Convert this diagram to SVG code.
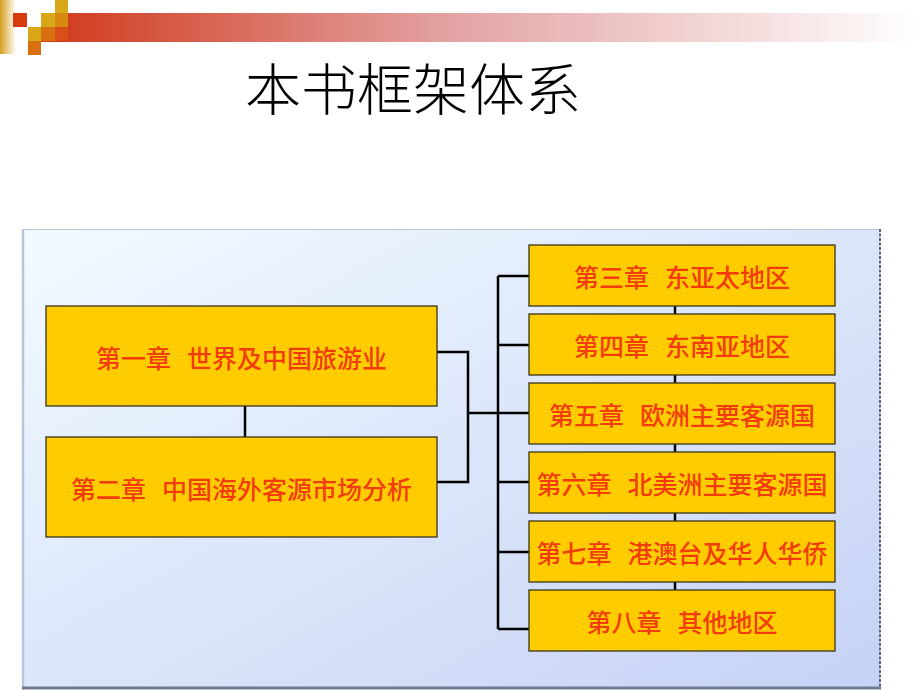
<svg xmlns="http://www.w3.org/2000/svg" width="920" height="690" viewBox="0 0 920 690">
<defs>
<linearGradient id="bar" x1="0" y1="0" x2="1" y2="0">
<stop offset="0" stop-color="#D0381A"/>
<stop offset="0.45" stop-color="#E2A0A0"/>
<stop offset="1" stop-color="#FFFFFF"/>
</linearGradient>
<linearGradient id="strip" x1="0" y1="0" x2="1" y2="0">
<stop offset="0" stop-color="#D8A020"/>
<stop offset="1" stop-color="#FFFFFF"/>
</linearGradient>
<linearGradient id="panel" x1="0" y1="0" x2="1" y2="1">
<stop offset="0" stop-color="#F2FBFF"/>
<stop offset="0.5" stop-color="#DCE6FA"/>
<stop offset="1" stop-color="#C6D2F6"/>
</linearGradient>
<style>
.box{fill:#FFCC00;stroke:#3A3418;stroke-width:1.3}
.lbl{font-family:"Noto Sans CJK SC","Noto Sans CJK JP",sans-serif;font-size:25px;font-weight:500;fill:#F23C0C;text-anchor:middle}
.con{fill:none;stroke:#000;stroke-width:2.5}
</style>
</defs>
<rect width="920" height="690" fill="#FFFFFF"/>
<g id="decoration">
<rect x="41" y="13" width="879" height="29" fill="url(#bar)"/>
<rect x="0" y="0" width="16" height="54" fill="url(#strip)"/>
<rect x="13" y="13" width="14" height="14" fill="#D83A10"/>
<rect x="55" y="0" width="13" height="13" fill="#D8A818"/>
<rect x="41" y="13" width="14" height="14" fill="#D8A818"/>
<rect x="55" y="13" width="13" height="14" fill="#D88A10"/>
<rect x="28" y="27" width="13" height="14" fill="#D8A818"/>
<rect x="41" y="27" width="14" height="14" fill="#D87010"/>
<rect x="55" y="27" width="13" height="14" fill="#D85018"/>
<rect x="28" y="41" width="13" height="14" fill="#D87010"/>
</g>
<text id="title" x="413" y="110" font-family="Noto Sans CJK SC, Noto Sans CJK JP, sans-serif" font-size="56" fill="#000" text-anchor="middle" font-weight="300">本书框架体系</text>
<g id="panel-bg">
<rect x="22" y="229" width="858" height="459" fill="url(#panel)"/>
<line x1="22" y1="229.5" x2="880" y2="229.5" stroke="#C0C8D8" stroke-width="1"/>
<line x1="23" y1="229" x2="23" y2="688" stroke="#B8C4E0" stroke-width="2.5"/>
<line x1="22" y1="688" x2="881" y2="688" stroke="#707A90" stroke-width="3"/>
<line x1="880" y1="229" x2="880" y2="688" stroke="#5A6478" stroke-width="2" stroke-dasharray="3,1.5"/>
</g>
<g id="connectors">
<line class="con" x1="245" y1="398" x2="245" y2="437"/>
<polyline class="con" points="437,352 468,352 468,482 437,482"/>
<line class="con" x1="468" y1="413" x2="529" y2="413"/>
<line class="con" x1="498" y1="276" x2="498" y2="629"/>
<line class="con" x1="498" y1="276" x2="529" y2="276"/>
<line class="con" x1="498" y1="345" x2="529" y2="345"/>
<line class="con" x1="498" y1="482" x2="529" y2="482"/>
<line class="con" x1="498" y1="552" x2="529" y2="552"/>
<line class="con" x1="498" y1="629" x2="529" y2="629"/>
<line class="con" x1="675" y1="300" x2="675" y2="640" stroke-width="2"/>
</g>
<g id="ch1"><rect class="box" x="46" y="306" width="391" height="100"/><text class="lbl" x="241.5" y="368">第一章<tspan dx="16">世界及中国旅游业</tspan></text></g>
<g id="ch2"><rect class="box" x="46" y="437" width="391" height="100"/><text class="lbl" x="241.5" y="499">第二章<tspan dx="16">中国海外客源市场分析</tspan></text></g>
<g id="ch3"><rect class="box" x="529" y="245" width="306" height="61"/><text class="lbl" x="682" y="287">第三章<tspan dx="16">东亚太地区</tspan></text></g>
<g id="ch4"><rect class="box" x="529" y="314" width="306" height="61"/><text class="lbl" x="682" y="356">第四章<tspan dx="16">东南亚地区</tspan></text></g>
<g id="ch5"><rect class="box" x="529" y="383" width="306" height="61"/><text class="lbl" x="682" y="425">第五章<tspan dx="16">欧洲主要客源国</tspan></text></g>
<g id="ch6"><rect class="box" x="529" y="452" width="306" height="61"/><text class="lbl" x="682" y="494">第六章<tspan dx="16">北美洲主要客源国</tspan></text></g>
<g id="ch7"><rect class="box" x="529" y="521" width="306" height="61"/><text class="lbl" x="682" y="563">第七章<tspan dx="16">港澳台及华人华侨</tspan></text></g>
<g id="ch8"><rect class="box" x="529" y="590" width="306" height="61"/><text class="lbl" x="682" y="632">第八章<tspan dx="16">其他地区</tspan></text></g>
</svg>
